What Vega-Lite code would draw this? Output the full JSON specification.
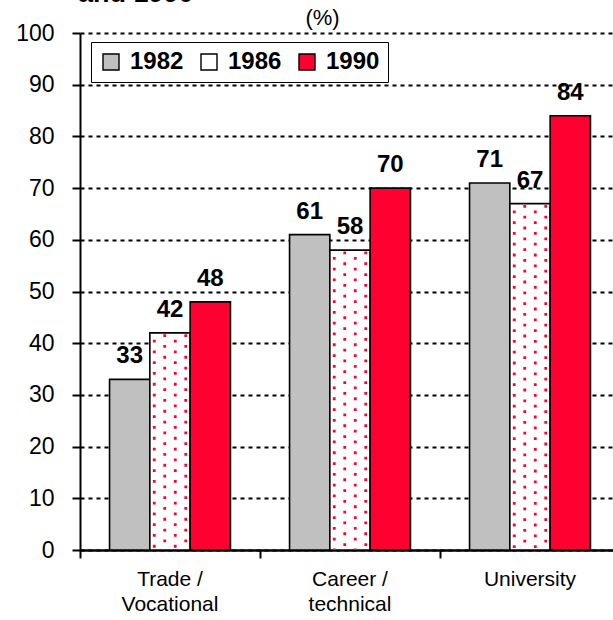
{
  "$schema": "https://vega.github.io/schema/vega-lite/v6.json",
  "width": 533,
  "height": 517,
  "autosize": {"type": "none"},
  "padding": {"left": 80, "top": 33, "right": 0, "bottom": 70},
  "background": "white",
  "config": {"font": "Liberation Sans", "view": {"stroke": null}},
  "title": {"text": "and 1990", "anchor": "start", "frame": "group", "fontSize": 27, "fontWeight": "bold", "color": "black", "offset": 0, "baseline": "alphabetic", "dy": 23, "dx": -2},
  "data": {"values": [
    {"category": "Trade / Vocational", "year": 1982, "value": 33},
    {"category": "Trade / Vocational", "year": 1986, "value": 42},
    {"category": "Trade / Vocational", "year": 1990, "value": 48},
    {"category": "Career / technical", "year": 1982, "value": 61},
    {"category": "Career / technical", "year": 1986, "value": 58},
    {"category": "Career / technical", "year": 1990, "value": 70},
    {"category": "University", "year": 1982, "value": 71},
    {"category": "University", "year": 1986, "value": 67},
    {"category": "University", "year": 1990, "value": 84}
  ]},
  "resolve": {"axis": {"x": "independent"}},
  "layer": [
    {
      "mark": {"type": "bar", "stroke": "black", "strokeWidth": 1.6},
      "encoding": {
        "x": {"field": "category", "type": "nominal", "sort": ["Trade / Vocational", "Career / technical", "University"],
          "scale": {"range": [0, 540], "paddingInner": 0, "paddingOuter": 0},
          "axis": {"orient": "bottom", "title": null, "ticks": false, "domain": false, "labelAngle": 0, "labelFontSize": 21, "labelColor": "black", "labelPadding": 18, "labelLineHeight": 25, "labelExpr": "split(replace(datum.label, '/ ', '/|'), '|')"}},
        "xOffset": {"field": "year", "type": "nominal", "scale": {"paddingInner": 0, "paddingOuter": 0.733}},
        "y": {"field": "value", "type": "quantitative", "scale": {"domain": [0, 100]},
          "axis": {"title": "(%)", "titleAngle": 0, "titleX": 242, "titleY": -9, "titleAlign": "center", "titleBaseline": "alphabetic", "titleFontSize": 22, "titleFontWeight": "normal", "titleColor": "black",
            "values": [0, 10, 20, 30, 40, 50, 60, 70, 80, 90, 100], "labelFontSize": 23, "labelColor": "black", "labelPadding": 18,
            "tickSize": 8, "tickWidth": 2, "tickColor": "black", "domainColor": "black", "domainWidth": 2,
            "grid": true, "gridColor": "black", "gridDash": [4, 4], "gridWidth": 2, "gridOpacity": 1}},
        "fill": {"field": "year", "type": "nominal", "scale": {"domain": [1982, 1986, 1990], "range": ["#c0c0c0", "#ffffff", "#ff0030"]},
          "legend": {"title": null, "orient": "none", "legendX": 11, "legendY": 9, "direction": "horizontal", "strokeColor": "black", "fillColor": "white", "padding": 8,
            "symbolType": "square", "symbolSize": 256, "symbolStrokeColor": "black", "symbolStrokeWidth": 1.4,
            "labelFontSize": 24, "labelFontWeight": "bold", "labelColor": "black", "labelOffset": 7, "columnPadding": 13}}
      }
    },
    {
      "transform": [{"filter": "datum.year == 1986"}],
      "mark": {"type": "rule", "color": "#ff0030", "strokeWidth": 2.8, "strokeDash": [2.8, 8], "strokeDashOffset": 4, "strokeCap": "butt"},
      "encoding": {
        "x": {"field": "category", "type": "nominal", "bandPosition": 0.4125, "sort": ["Trade / Vocational", "Career / technical", "University"], "axis": null},
        "y": {"field": "value", "type": "quantitative"},
        "y2": {"datum": 0}
      }
    },
    {
      "transform": [{"filter": "datum.year == 1986"}],
      "mark": {"type": "rule", "color": "#ff0030", "strokeWidth": 2.8, "strokeDash": [2.8, 8], "strokeDashOffset": 9.4, "strokeCap": "butt"},
      "encoding": {
        "x": {"field": "category", "type": "nominal", "bandPosition": 0.4708, "sort": ["Trade / Vocational", "Career / technical", "University"], "axis": null},
        "y": {"field": "value", "type": "quantitative"},
        "y2": {"datum": 0}
      }
    },
    {
      "transform": [{"filter": "datum.year == 1986"}],
      "mark": {"type": "rule", "color": "#ff0030", "strokeWidth": 2.8, "strokeDash": [2.8, 8], "strokeDashOffset": 4, "strokeCap": "butt"},
      "encoding": {
        "x": {"field": "category", "type": "nominal", "bandPosition": 0.5292, "sort": ["Trade / Vocational", "Career / technical", "University"], "axis": null},
        "y": {"field": "value", "type": "quantitative"},
        "y2": {"datum": 0}
      }
    },
    {
      "transform": [{"filter": "datum.year == 1986"}],
      "mark": {"type": "rule", "color": "#ff0030", "strokeWidth": 2.8, "strokeDash": [2.8, 8], "strokeDashOffset": 9.4, "strokeCap": "butt"},
      "encoding": {
        "x": {"field": "category", "type": "nominal", "bandPosition": 0.5875, "sort": ["Trade / Vocational", "Career / technical", "University"], "axis": null},
        "y": {"field": "value", "type": "quantitative"},
        "y2": {"datum": 0}
      }
    },
    {
      "mark": {"type": "text", "fontSize": 24, "fontWeight": "bold", "color": "black", "baseline": "alphabetic", "dy": -16},
      "encoding": {
        "x": {"field": "category", "type": "nominal", "sort": ["Trade / Vocational", "Career / technical", "University"],
          "axis": {"orient": "bottom", "title": null, "labels": false, "ticks": true, "tickSize": 8, "tickWidth": 2, "tickColor": "black", "domain": true, "domainColor": "black", "domainWidth": 2.5, "bandPosition": 0, "grid": false}},
        "xOffset": {"field": "year", "type": "nominal"},
        "y": {"field": "value", "type": "quantitative"},
        "text": {"field": "value", "type": "quantitative"}
      }
    }
  ]
}
